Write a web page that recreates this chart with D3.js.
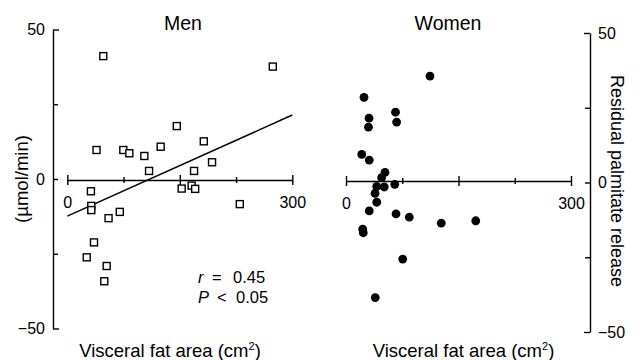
<!DOCTYPE html>
<html>
<head>
<meta charset="utf-8">
<script src="https://cdn.jsdelivr.net/npm/d3@7"></script>
<style>
  body { margin: 0; background: #fff; }
  svg { display: block; font-family: "Liberation Sans", Arial, Helvetica, sans-serif; }
</style>
</head>
<body>
<div id="chart"></div>
<script>
// Men: visceral fat area (cm2) vs residual palmitate release (umol/min)
var menX = [48, 274, 146, 182, 124.5, 39, 74.7, 82.7, 102.7, 193, 109, 169,
  165.8, 152.5, 170.5, 31.5, 230, 32, 32, 70, 55, 35.6, 25.9, 52.5, 49.3];
var menY = [41.1, 37.6, 17.7, 12.6, 10.8, 9.7, 9.7, 8.6, 7.7, 5.6, 2.7, 2.7,
  -2.2, -3.2, -3.3, -4.1, -8.4, -9, -10.4, -11, -13.1, -21.2, -26.2, -29.1, -34.2];

// Women
var womenX = [112, 24, 30.7, 30, 66, 67.5, 21, 31, 52, 47.5, 41, 51, 65,
  38.7, 41, 31, 66.7, 84.4, 127, 173, 22.3, 23, 75.6, 39];
var womenY = [35.6, 28.5, 21.5, 18.5, 23.5, 20.2, 9.4, 7.5, 3.4, 1.6, -1.3, -1.5, -0.6,
  -3.6, -6.6, -9.5, -10.5, -11.6, -13.6, -12.8, -15.6, -16.8, -25.6, -38.5];

// regression line for men (end points)
var fitX = [0, 300];
var fitY = [-12.4, 21.4];

var xTicks = [0, 75, 150, 225, 300];
var xLabels = [0, 300];
var yTicks = [-50, -25, 0, 25, 50];
var yLabels = [-50, 0, 50];

var width = 642, height = 360;

var svg = d3.select("#chart")
  .append("svg")
  .attr("width", width)
  .attr("height", height);

// scales
var xMen = d3.scaleLinear().domain([0, 300]).range([67.3, 292.3]);
var yMen = d3.scaleLinear().domain([-50, 50]).range([328.5, 29.5]);
var xWomen = d3.scaleLinear().domain([0, 300]).range([346, 571]);
var yWomen = d3.scaleLinear().domain([-50, 50]).range([332, 33]);

var fmt = d => (yLabels.indexOf(d) >= 0) ? d3.format("d")(d) : "";
var fmtX = d => (xLabels.indexOf(d) >= 0) ? d : "";

function styleAxis(g) {
  g.selectAll("path, line").attr("stroke", "#000").attr("stroke-width", 1.4);
  g.selectAll("text").attr("font-size", 16).attr("fill", "#000")
    .attr("font-family", "'Liberation Sans', Arial, sans-serif");
}

// left y axis (ticks point inward)
svg.append("g")
  .attr("transform", "translate(53,0)")
  .call(d3.axisLeft(yMen).tickValues(yTicks).tickFormat(fmt)
    .tickSizeInner(-5).tickSizeOuter(0).tickPadding(8))
  .call(styleAxis)
  .call(g => g.selectAll(".tick").filter(d => Math.abs(d) === 50)
    .select("line").attr("x2", 6));

// right y axis
svg.append("g")
  .attr("transform", "translate(590,0)")
  .call(d3.axisRight(yWomen).tickValues(yTicks).tickFormat(fmt)
    .tickSizeInner(-5).tickSizeOuter(0).tickPadding(8))
  .call(styleAxis)
  .call(g => g.selectAll(".tick").filter(d => Math.abs(d) === 50)
    .select("line").attr("x2", -6));

// x axes drawn through zero
function xAxis(g, x, y0) {
  g.attr("transform", "translate(0," + y0 + ")")
    .call(d3.axisBottom(x).tickValues(xTicks).tickFormat(fmtX).tickSizeOuter(0))
    .call(styleAxis);
  g.selectAll(".tick line")
    .attr("y1", d => (d % 150 === 0) ? -5 : -3)
    .attr("y2", d => (d % 150 === 0) ? 5 : 3);
  g.selectAll(".tick text").attr("y", 16.5);
}
svg.append("g").call(xAxis, xMen, 180);
svg.append("g").call(xAxis, xWomen, 181);

// regression line
svg.append("line")
  .attr("x1", xMen(fitX[0])).attr("y1", yMen(fitY[0]))
  .attr("x2", xMen(fitX[1])).attr("y2", yMen(fitY[1]))
  .attr("stroke", "#000")
  .attr("stroke-width", 1.5);

// men squares
var s = 7;
svg.append("g")
  .selectAll("rect")
  .data(d3.range(menX.length))
  .join("rect")
    .attr("x", i => xMen(menX[i]) - s / 2)
    .attr("y", i => yMen(menY[i]) - s / 2)
    .attr("width", s)
    .attr("height", s)
    .attr("fill", "#fff")
    .attr("stroke", "#000")
    .attr("stroke-width", 1.4);

// women dots
svg.append("g")
  .selectAll("circle")
  .data(d3.range(womenX.length))
  .join("circle")
    .attr("cx", i => xWomen(womenX[i]))
    .attr("cy", i => yWomen(womenY[i]))
    .attr("r", 4.4)
    .attr("fill", "#000");

// titles
svg.append("text").attr("x", 183).attr("y", 30)
  .attr("text-anchor", "middle").attr("font-size", 19.5).text("Men");
svg.append("text").attr("x", 448).attr("y", 30)
  .attr("text-anchor", "middle").attr("font-size", 19.5).text("Women");

// x axis titles
function xTitle(cx) {
  var t = svg.append("text").attr("x", cx).attr("y", 357)
    .attr("text-anchor", "middle").attr("font-size", 18.5);
  t.append("tspan").text("Visceral fat area (cm");
  t.append("tspan").attr("font-size", 11).attr("dy", -7).text("2");
  t.append("tspan").attr("dy", 7).text(")");
}
xTitle(170);
xTitle(463.5);

// y axis titles
svg.append("text")
  .attr("transform", "translate(28,179) rotate(-90)")
  .attr("text-anchor", "middle").attr("font-size", 18.5)
  .text("(\u00b5mol/min)");
svg.append("text")
  .attr("transform", "translate(611,181) rotate(90)")
  .attr("text-anchor", "middle").attr("font-size", 18)
  .text("Residual palmitate release");

// statistics
var st = svg.append("g").attr("font-size", 16.5);
var r1 = st.append("text").attr("y", 283);
r1.append("tspan").attr("x", 198).attr("font-style", "italic").text("r");
r1.append("tspan").attr("x", 212).text("=");
r1.append("tspan").attr("x", 233).text("0.45");
var r2 = st.append("text").attr("y", 303);
r2.append("tspan").attr("x", 198).attr("font-style", "italic").text("P");
r2.append("tspan").attr("x", 217).text("<");
r2.append("tspan").attr("x", 236).text("0.05");
</script>
</body>
</html>
